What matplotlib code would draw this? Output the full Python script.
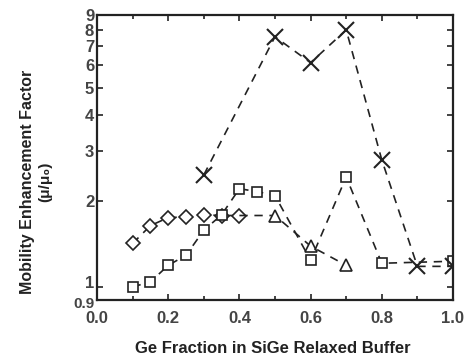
import matplotlib
matplotlib.use("Agg")
import matplotlib.pyplot as plt
import matplotlib.transforms as mtransforms
from matplotlib.ticker import FixedLocator, NullFormatter, MultipleLocator

plt.rcParams['font.family'] = ['Liberation Sans', 'DejaVu Sans']
plt.rcParams['font.weight'] = 'bold'

# data
diamond_x = [0.10, 0.15, 0.20, 0.25, 0.30, 0.35, 0.40]
diamond_y = [1.42, 1.64, 1.75, 1.76, 1.79, 1.78, 1.78]

tri_x = [0.40, 0.50, 0.60, 0.70]
tri_y = [1.78, 1.78, 1.39, 1.19]

square_x = [0.10, 0.15, 0.20, 0.25, 0.30, 0.35, 0.40, 0.45, 0.50, 0.60, 0.70, 0.80, 1.00]
square_y = [1.00, 1.04, 1.19, 1.29, 1.58, 1.79, 2.21, 2.16, 2.09, 1.24, 2.43, 1.21, 1.23]

cross_x = [0.30, 0.50, 0.60, 0.70, 0.80, 0.90, 1.00]
cross_y = [2.47, 7.55, 6.12, 7.98, 2.79, 1.18, 1.18]

yticks = [0.9, 1, 2, 3, 4, 5, 6, 7, 8, 9]
ytick_labels = ['0.9', '1', '2', '3', '4', '5', '6', '7', '8', '9']
xticks = [0.0, 0.2, 0.4, 0.6, 0.8, 1.0]
xtick_labels = ['0.0', '0.2', '0.4', '0.6', '0.8', '1.0']

fig = plt.figure(figsize=(4.67, 3.57), dpi=100)
ax = fig.add_axes([0.2077, 0.160, 0.7623, 0.798])

dash = (0, (5, 4))
ax.plot(diamond_x, diamond_y, color='#222222', linestyle=dash, lw=1.2,
        marker='D', markersize=7, mfc='white', mec='#222222', mew=1.2)
ax.plot(tri_x, tri_y, color='#222222', linestyle=dash, lw=1.2,
        marker='^', markersize=8.5, mfc='white', mec='#222222', mew=1.2,
        markevery=[1, 2, 3])
ax.plot(square_x, square_y, color='#222222', linestyle=dash, lw=1.2,
        marker='s', markersize=7, mfc='white', mec='#222222', mew=1.2)
ax.plot(cross_x, cross_y, color='#222222', linestyle=dash, lw=1.2,
        marker='x', markersize=11, mec='#222222', mew=1.5)

ax.set_yscale('log')
ax.set_ylim(0.9, 9)
ax.set_xlim(0.0, 1.0)
ax.yaxis.set_major_locator(FixedLocator(yticks))
ax.set_yticklabels(ytick_labels)
ax.yaxis.set_minor_locator(FixedLocator([]))
ax.yaxis.set_minor_formatter(NullFormatter())
ax.set_xticks(xticks)
ax.set_xticklabels(xtick_labels)
ax.xaxis.set_minor_locator(MultipleLocator(0.1))

ax.tick_params(which='both', direction='in', top=True, right=True,
               labelsize=12, width=1.2, color='#222222', labelcolor='#444444')
ax.tick_params(which='major', length=4)
ax.tick_params(which='minor', length=3)
ax.tick_params(axis='y', pad=2)
ax.tick_params(axis='x', pad=8)
for lab in ax.get_xticklabels() + ax.get_yticklabels():
    lab.set_fontweight('bold')

# nudge the crowded "0.9" and "1" labels apart a little, as in the reference
ylabs = ax.get_yticklabels()
ylabs[0].set_transform(ylabs[0].get_transform() +
                       mtransforms.ScaledTranslation(0, -2 / 72, fig.dpi_scale_trans))
ylabs[0].set_fontsize(11)
ylabs[1].set_transform(ylabs[1].get_transform() +
                       mtransforms.ScaledTranslation(0, 3.5 / 72, fig.dpi_scale_trans))

for sp in ax.spines.values():
    sp.set_linewidth(1.6)
    sp.set_color('#222222')

fig.text(0.058, 0.49, 'Mobility Enhancement Factor', rotation=90, ha='center', va='center',
         fontsize=11.5, fontweight='bold', color='#222222')
fig.text(0.097, 0.49, '(μ/μ₀)', rotation=90, ha='center', va='center',
         fontsize=11, fontweight='bold', color='#222222')
fig.text(0.585, 0.025, 'Ge Fraction in SiGe Relaxed Buffer', ha='center', va='center',
         fontsize=12, fontweight='bold', color='#222222')

fig.savefig('out.png', dpi=100)
